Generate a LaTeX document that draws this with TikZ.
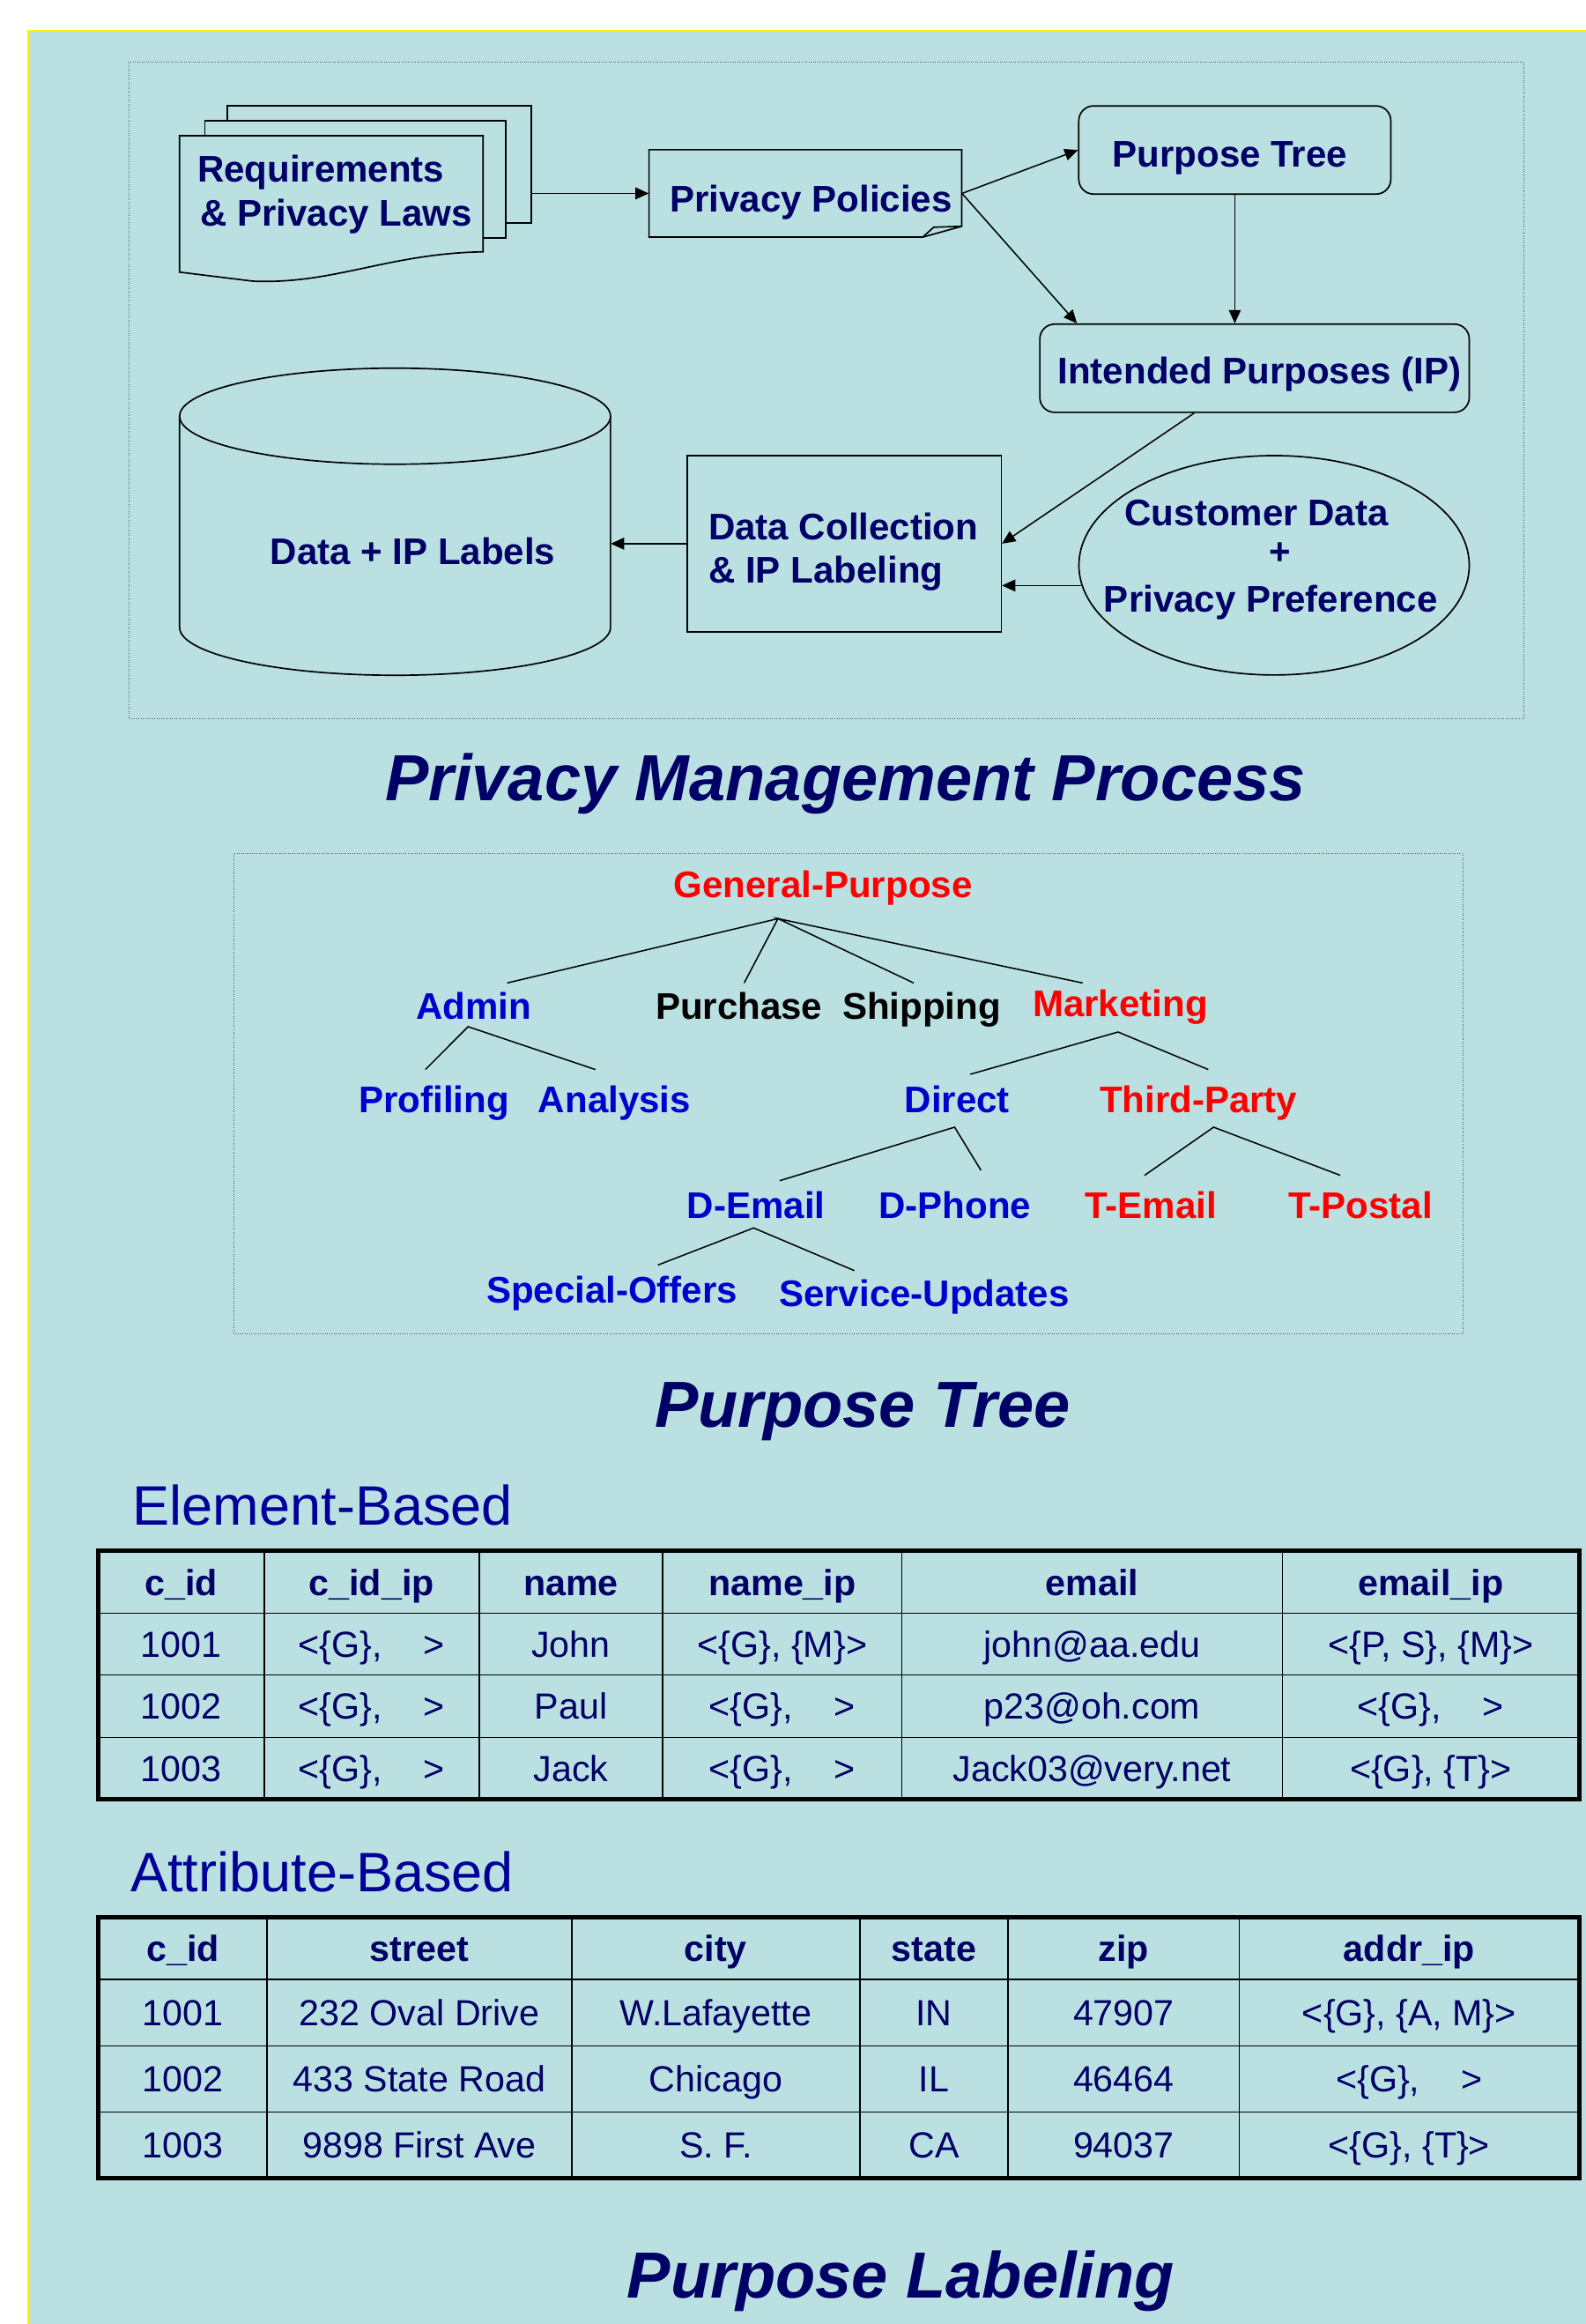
\documentclass[tikz,border=0pt]{standalone}
\usepackage{fontspec}
\setmainfont{Liberation Sans}
\usetikzlibrary{arrows.meta,calc,shapes.geometric}
\definecolor{panel}{RGB}{186,224,226}
\definecolor{navy}{RGB}{0,0,102}
\definecolor{secblue}{RGB}{0,0,153}
\definecolor{tblue}{RGB}{0,0,204}
\definecolor{tred}{RGB}{255,0,0}
\definecolor{dotgray}{RGB}{90,90,90}
\newcommand\gapG{<\{G\},\hspace{28pt}>}
\begin{document}
\begin{tikzpicture}[x=1pt,y=-1pt,
  boxsty/.style={draw=black,line width=1pt,fill=panel,inner sep=0pt},
  pagesty/.style={boxsty},
  dotbox/.style={draw=dotgray,line width=0.5pt,densely dotted},
  lbl/.style={font=\fontsize{25}{30}\selectfont\bfseries,text=navy,inner sep=0pt,anchor=base},
  lblw/.style={lbl,anchor=base west},
  arr/.style={-{Triangle[length=9pt,width=8pt]},line width=0.9pt},
  ttl/.style={font=\fontsize{44}{50}\selectfont\bfseries\itshape,text=navy,inner sep=0pt,anchor=base},
  sec/.style={font=\fontsize{37.5}{42}\selectfont,text=secblue,inner sep=0pt,anchor=base west},
  tr/.style={font=\fontsize{25}{30}\selectfont\bfseries,text=tred,inner sep=0pt,anchor=base},
  tb/.style={font=\fontsize{25}{30}\selectfont\bfseries,text=tblue,inner sep=0pt,anchor=base},
  tk/.style={font=\fontsize{25}{30}\selectfont\bfseries,text=black,inner sep=0pt,anchor=base},
  tln/.style={line width=0.9pt},
  cl/.style={font=\fontsize{24.5}{28}\selectfont,text=navy,inner sep=0pt,anchor=base},
  hd/.style={font=\fontsize{24.5}{28}\selectfont\bfseries,text=navy,inner sep=0pt,anchor=base},
  inln/.style={line width=1pt,draw=black},
  outln/.style={line width=3pt,draw=black}]
\useasboundingbox (0,0) rectangle (1070,1568);
\fill[white] (0,0) rectangle (1070,1568);
\fill[panel] (18.8,20.8) rectangle (1070,1568);
\draw[yellow,line width=1.3pt] (18.8,1568) -- (18.8,20.8) -- (1070,20.8);

% ---------------- Privacy management process
\draw[dotbox] (87.1,41.6) rectangle (1028.1,485.1);

\node[pagesty,minimum width=204.9pt,minimum height=79.1pt] (req3) at (256.05,110.75) {};
\node[pagesty,minimum width=203.2pt,minimum height=79.3pt] (req2) at (239.9,120.95) {};
\draw[line width=1pt,fill=panel] (121.2,91.6) -- (326,91.6) -- (326,169.9)
  .. controls (262,171) and (225,192) .. (170.7,189.7) -- (121.2,183.6) -- cycle;
\node[lblw] (treq1) at (133,123) {Requirements};
\node[lblw] (treq2) at (135,152.3) {\& Privacy Laws};

\node[inner sep=0pt,minimum width=211pt,minimum height=59pt] (pp) at (543.5,130.5) {};
\draw[line width=1pt,fill=panel] (438,101) -- (649,101) -- (649,152.7) -- (622.7,160) -- (438,160) -- cycle;
\draw[line width=1pt] (622.7,160) -- (630.1,153.3) -- (649,152.7);
\node[lblw] (tpp) at (452,143) {Privacy Policies};

\node[boxsty,rounded corners=10pt,minimum width=210.6pt,minimum height=59.5pt] (pt) at (833.3,101.2) {};
\node[lbl] (tpt) at (830,112.6) {Purpose Tree};

\node[boxsty,rounded corners=10pt,minimum width=289.8pt,minimum height=59.5pt] (ip) at (846.6,248.45) {};
\node[lbl] (tip) at (850,258.7) {Intended Purposes (IP)};

\node[boxsty,minimum width=212pt,minimum height=119pt] (dc) at (569.7,366.8) {};
\node[lblw] (tdc1) at (478,364.4) {Data Collection};
\node[lblw] (tdc2) at (478,393.2) {\& IP Labeling};

\node[boxsty,ellipse,minimum width=263.4pt,minimum height=148pt] (cust) at (859.8,381.4) {};
\node[lbl] (tcu1) at (848,354.5) {Customer Data};
\node[lbl] (tcu2) at (863.6,380.7) {+};
\node[lbl] (tcu3) at (857.6,412.8) {Privacy Preference};

\node[inner sep=0pt,minimum width=290.8pt,minimum height=207.2pt] (db) at (266.6,352) {};
\draw[line width=1pt,fill=panel] (121.2,280.8) -- (121.2,423.3)
  arc[start angle=180,end angle=360,x radius=145.4pt,y radius=32.3pt] -- (412,280.8);
\draw[line width=1pt,fill=panel] (266.6,280.8) ellipse[x radius=145.4pt,y radius=32.4pt];
\node[lbl] (tdb) at (278.6,380.7) {Data + IP Labels};

\draw[arr] (pp.west -| req3.east) -- (pp.west);
\draw[arr] (pp.east) -- (pt.west);
\draw[arr] (pp.east) -- ($(ip.north west)+(25.6,0)$);
\draw[arr] (pt.south) -- (pt.south |- ip.north);
\draw[arr] ($(ip.south west)+(104.7,0)$) -- (dc.east);
\draw[arr] (cust.186.5) -- (cust.186.5 -| dc.east);
\draw[arr] (dc.west) -- (dc.west -| db.east);

\node[ttl] (title1) at (570.5,540) {Privacy Management Process};

% ---------------- Purpose tree
\draw[dotbox] (157.7,576) rectangle (987,900);
\node[tr] (gp) at (555.4,605.4) {General-Purpose};
\node[tb] (admin) at (319.7,687.6) {Admin};
\node[tk] (purch) at (498.7,687.6) {Purchase};
\node[tk] (ship) at (622,687.6) {Shipping};
\node[tr] (mkt) at (756,686) {Marketing};
\node[tb] (prof) at (292.9,750.5) {Profiling};
\node[tb] (anal) at (414.7,750.5) {Analysis};
\node[tb] (direct) at (645.9,750.5) {Direct};
\node[tr] (third) at (808.8,750.5) {Third-Party};
\node[tb] (demail) at (510.3,822) {D-Email};
\node[tb] (dphone) at (644.5,822) {D-Phone};
\node[tr] (temail) at (776.6,822) {T-Email};
\node[tr] (tpostal) at (918.2,822) {T-Postal};
\node[tb] (special) at (413,879) {Special-Offers};
\node[tb] (service) at (623.7,881.5) {Service-Updates};

\coordinate (j0) at (525,619.8);
\coordinate (j1) at (315.9,692.7);
\coordinate (j2) at (754.5,696.3);
\coordinate (j3) at (644.2,760.5);
\coordinate (j4) at (819,760.5);
\coordinate (j5) at (508.6,828.5);
\coordinate (c-admin) at (342.3,663.2);
\coordinate (c-purch) at (502.2,663.2);
\coordinate (c-ship) at (616.6,663.2);
\coordinate (c-mkt) at (730.6,663.2);
\coordinate (c-prof) at (287.1,721.6);
\coordinate (c-anal) at (401.8,721.6);
\coordinate (c-direct) at (654.8,724.8);
\coordinate (c-third) at (815.4,721.6);
\coordinate (c-demail) at (526.2,796.6);
\coordinate (c-dphone) at (662,789.6);
\coordinate (c-temail) at (772.4,793);
\coordinate (c-tpostal) at (904.5,793);
\coordinate (c-special) at (444,853.5);
\coordinate (c-service) at (576.6,857.3);
\draw[tln] (c-admin) -- (j0) -- (c-purch);
\draw[tln] (c-ship) -- (j0) -- (c-mkt);
\draw[tln] (c-prof) -- (j1) -- (c-anal);
\draw[tln] (c-direct) -- (j2) -- (c-third);
\draw[tln] (c-demail) -- (j3) -- (c-dphone);
\draw[tln] (c-temail) -- (j4) -- (c-tpostal);
\draw[tln] (c-special) -- (j5) -- (c-service);

\node[ttl] (title2) at (582,963) {Purpose Tree};

% ---------------- Element-based table
\node[sec] (elem) at (89.5,1029) {Element-Based};
\foreach \x in {178.2,323.3,447.3,608.6,865.4} \draw[inln] (\x,1046.4) -- (\x,1214);
\foreach \y in {1088.5,1130,1172.3} \draw[inln] (66.5,\y) -- (1065.6,\y);
\draw[outln] (66.5,1046.4) rectangle (1065.6,1214);

\node[hd] (e00) at (122.35,1076.25) {c\_id};
\node[hd] (e01) at (250.75,1076.25) {c\_id\_ip};
\node[hd] (e02) at (385.3,1076.25) {name};
\node[hd] (e03) at (527.95,1076.25) {name\_ip};
\node[hd] (e04) at (737,1076.25) {email};
\node[hd] (e05) at (965.5,1076.25) {email\_ip};

\node[cl] (e10) at (122.35,1118.05) {1001};
\node[cl] (e11) at (250.75,1118.05) {\gapG};
\node[cl] (e12) at (385.3,1118.05) {John};
\node[cl] (e13) at (527.95,1118.05) {<\{G\}, \{M\}>};
\node[cl] (e14) at (737,1118.05) {john@aa.edu};
\node[cl] (e15) at (965.5,1118.05) {<\{P, S\}, \{M\}>};

\node[cl] (e20) at (122.35,1159.95) {1002};
\node[cl] (e21) at (250.75,1159.95) {\gapG};
\node[cl] (e22) at (385.3,1159.95) {Paul};
\node[cl] (e23) at (527.95,1159.95) {\gapG};
\node[cl] (e24) at (737,1159.95) {p23@oh.com};
\node[cl] (e25) at (965.5,1159.95) {\gapG};

\node[cl] (e30) at (122.35,1201.95) {1003};
\node[cl] (e31) at (250.75,1201.95) {\gapG};
\node[cl] (e32) at (385.3,1201.95) {Jack};
\node[cl] (e33) at (527.95,1201.95) {\gapG};
\node[cl] (e34) at (737,1201.95) {Jack03@very.net};
\node[cl] (e35) at (965.5,1201.95) {<\{G\}, \{T\}>};

% ---------------- Attribute-based table
\node[sec] (attr) at (88,1276.4) {Attribute-Based};
\foreach \x in {180.3,385.8,580.3,680.2,836.4} \draw[inln] (\x,1293.6) -- (\x,1469.5);
\foreach \y in {1335.5,1380.3,1424.9} \draw[inln] (66.5,\y) -- (1065.6,\y);
\draw[outln] (66.5,1293.6) rectangle (1065.6,1469.5);

\node[hd] (a00) at (123.4,1323.35) {c\_id};
\node[hd] (a01) at (283.05,1323.35) {street};
\node[hd] (a02) at (483.05,1323.35) {city};
\node[hd] (a03) at (630.25,1323.35) {state};
\node[hd] (a04) at (758.3,1323.35) {zip};
\node[hd] (a05) at (951,1323.35) {addr\_ip};

\node[cl] (a10) at (123.4,1366.7) {1001};
\node[cl] (a11) at (283.05,1366.7) {232 Oval Drive};
\node[cl] (a12) at (483.05,1366.7) {W.Lafayette};
\node[cl] (a13) at (630.25,1366.7) {IN};
\node[cl] (a14) at (758.3,1366.7) {47907};
\node[cl] (a15) at (951,1366.7) {<\{G\}, \{A, M\}>};

\node[cl] (a20) at (123.4,1411.4) {1002};
\node[cl] (a21) at (283.05,1411.4) {433 State Road};
\node[cl] (a22) at (483.05,1411.4) {Chicago};
\node[cl] (a23) at (630.25,1411.4) {IL};
\node[cl] (a24) at (758.3,1411.4) {46464};
\node[cl] (a25) at (951,1411.4) {\gapG};

\node[cl] (a30) at (123.4,1456) {1003};
\node[cl] (a31) at (283.05,1456) {9898 First Ave};
\node[cl] (a32) at (483.05,1456) {S. F.};
\node[cl] (a33) at (630.25,1456) {CA};
\node[cl] (a34) at (758.3,1456) {94037};
\node[cl] (a35) at (951,1456) {<\{G\}, \{T\}>};

\node[ttl] (title3) at (607.9,1550.6) {Purpose Labeling};
\end{tikzpicture}
\end{document}
